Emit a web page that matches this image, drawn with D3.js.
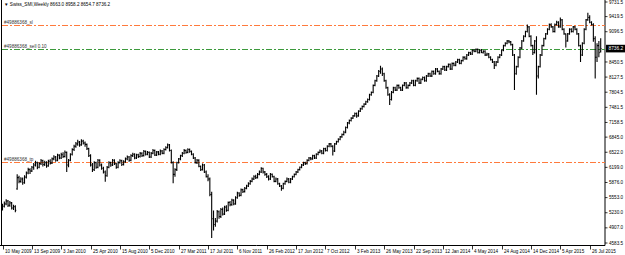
<!DOCTYPE html>
<html><head><meta charset="utf-8">
<script src="https://cdn.jsdelivr.net/npm/d3@7"></script>
<style>body{margin:0;background:#fff}svg{display:block}text{font-family:"Liberation Sans",Arial,sans-serif}</style>
</head><body><svg id="c" width="625" height="255"></svg>
<script>
const symbolTitle = "\u25BC Swiss_SMI,Weekly";
const lastOHLC = ["8663.0", "8958.2", "8654.7", "8736.2"];
const lastPrice = 8736.2;
const dateLabels = ["10 May 2009","13 Sep 2009","3 Jan 2010","25 Apr 2010","15 Aug 2010","5 Dec 2010","27 Mar 2011","17 Jul 2011","6 Nov 2011","26 Feb 2012","17 Jun 2012","7 Oct 2012","3 Feb 2013","26 May 2013","22 Sep 2013","12 Jan 2014","4 May 2014","24 Aug 2014","14 Dec 2014","5 Apr 2015","26 Jul 2015"];
const dateLabelStep = 16;
const priceTicks = [4583.5, 4907.0, 5230.0, 5553.0, 5876.0, 6199.0, 6522.0, 6845.0, 7158.5, 7481.5, 7804.5, 8127.5, 8450.5, 9096.5, 9419.5, 9731.5];
const levelNames = ["#49886368_sl", "#49886368_sell 0.10", "#49886368_tp"];
const levelValues = [9240, 8727, 6313];
// weekly bars: [open, high, low, close]
const bars = [
[5300,5420,5280,5370],[5370,5470,5340,5420],[5420,5520,5390,5480],[5480,5500,5350,5390],[5390,5480,5360,5440],[5440,5460,5300,5330],[5330,5400,5290,5360],[5360,5390,5240,5280],
[5740,6050,5720,5980],[5980,6020,5860,5900],[5900,5990,5870,5950],[5950,5980,5830,5870],[5870,6030,5850,5990],[5990,6110,5960,6080],[6080,6190,6050,6150],[6150,6180,6060,6120],
[6120,6230,6100,6200],[6200,6290,6150,6250],[6250,6340,6220,6300],[6300,6320,6160,6200],[6200,6310,6180,6280],[6280,6380,6250,6340],[6340,6360,6220,6260],[6260,6340,6230,6300],
[6300,6330,6190,6230],[6230,6360,6210,6330],[6330,6370,6260,6290],[6290,6410,6270,6380],[6380,6460,6350,6420],[6420,6440,6320,6350],[6350,6490,6330,6460],[6460,6480,6370,6400],
[6400,6510,6380,6470],[6470,6520,6400,6430],[6430,6560,6410,6520],[6520,6540,6100,6250],[6250,6380,6200,6350],[6350,6500,6330,6480],[6480,6610,6450,6580],[6580,6680,6550,6650],
[6650,6740,6620,6700],[6700,6790,6660,6740],[6740,6760,6640,6680],[6680,6800,6660,6760],[6760,6790,6690,6720],[6720,6750,6640,6690],[6690,6710,6570,6600],[6600,6620,6420,6450],
[6450,6480,6220,6250],[6250,6290,6100,6150],[6150,6330,6120,6300],[6300,6320,6170,6200],[6200,6380,6180,6350],[6350,6370,6220,6250],[6250,6280,6150,6180],[6180,6210,6070,6100],
[6100,6130,5890,6020],[6020,6230,6000,6200],[6200,6330,6180,6300],[6300,6320,6210,6250],[6250,6380,6230,6350],[6350,6370,6250,6280],[6280,6300,6170,6200],[6200,6330,6180,6300],
[6300,6370,6280,6340],[6340,6360,6230,6260],[6260,6350,6240,6320],[6320,6410,6300,6380],[6380,6450,6350,6420],[6420,6440,6320,6350],[6350,6480,6330,6450],[6450,6510,6420,6480],
[6480,6500,6370,6400],[6400,6490,6380,6470],[6470,6490,6400,6430],[6430,6530,6410,6500],[6500,6520,6420,6450],[6450,6570,6430,6540],[6540,6560,6450,6480],[6480,6550,6460,6520],
[6520,6540,6400,6420],[6420,6530,6400,6500],[6500,6590,6480,6560],[6560,6580,6440,6460],[6460,6550,6440,6530],[6530,6550,6460,6480],[6480,6580,6460,6550],[6550,6570,6480,6500],
[6500,6610,6480,6580],[6580,6650,6560,6620],[6620,6710,6600,6680],[6680,6700,6540,6560],[6560,6580,6280,6300],[6300,6330,5860,6050],[6050,6180,6000,6150],[6150,6320,6120,6300],
[6300,6400,6280,6380],[6380,6470,6350,6450],[6450,6530,6420,6500],[6500,6590,6480,6560],[6560,6580,6490,6520],[6520,6610,6500,6580],[6580,6600,6510,6540],[6540,6560,6460,6480],
[6480,6500,6380,6400],[6400,6420,6280,6300],[6300,6380,6270,6350],[6350,6370,6200,6220],[6220,6240,6120,6150],[6150,6280,6130,6250],[6250,6270,6080,6100],[6100,6130,5980,6000],
[6000,6050,5900,5950],[5950,5980,5580,5620],[5620,5680,4690,5100],[5100,5280,4850,4980],[4980,5120,4930,5050],[5050,5290,5020,5250],[5250,5280,5100,5150],[5150,5330,5120,5300],
[5300,5340,5170,5200],[5200,5380,5180,5350],[5350,5390,5250,5280],[5280,5470,5260,5450],[5450,5480,5370,5400],[5400,5530,5380,5500],[5500,5520,5390,5420],[5420,5580,5400,5550],
[5550,5680,5530,5650],[5650,5670,5570,5600],[5600,5750,5580,5720],[5720,5740,5650,5680],[5680,5780,5660,5750],[5750,5830,5730,5800],[5800,5880,5780,5850],[5850,5930,5830,5900],
[5900,5980,5880,5950],[5950,6030,5930,6000],[6000,6040,5950,5980],[5980,6080,5960,6050],[6050,6130,6030,6100],[6100,6200,6080,6180],[6180,6190,6070,6100],[6100,6120,6020,6050],
[6050,6080,5970,6000],[6000,6030,5920,5950],[5950,6080,5930,6050],[6050,6070,5980,6000],[6000,6020,5880,5900],[5900,5980,5880,5950],[5950,5970,5830,5850],[5850,5870,5780,5800],
[5800,5820,5700,5750],[5750,5870,5730,5850],[5850,5920,5830,5900],[5900,5980,5880,5950],[5950,5970,5860,5880],[5880,5970,5860,5950],[5950,6020,5930,6000],[6000,6070,5980,6050],
[6050,6120,6030,6100],[6100,6170,6080,6150],[6150,6220,6130,6200],[6200,6270,6180,6250],[6250,6320,6230,6300],[6300,6320,6250,6280],[6280,6370,6260,6350],[6350,6420,6330,6400],
[6400,6420,6350,6380],[6380,6470,6360,6450],[6450,6470,6380,6400],[6400,6500,6380,6480],[6480,6540,6460,6520],[6520,6580,6500,6550],[6550,6570,6480,6500],[6500,6620,6480,6600],
[6600,6620,6540,6560],[6560,6670,6540,6650],[6650,6720,6630,6700],[6700,6720,6630,6650],[6650,6670,6450,6550],[6550,6720,6530,6700],[6700,6770,6680,6750],[6750,6820,6730,6800],
[6800,6870,6780,6850],[6850,6920,6830,6900],[6900,6980,6880,6950],[6950,7070,6930,7050],[7050,7170,7030,7150],[7150,7220,7120,7200],[7200,7270,7180,7250],[7250,7320,7230,7300],
[7300,7370,7280,7350],[7350,7370,7260,7300],[7300,7420,7280,7400],[7400,7470,7380,7450],[7450,7520,7430,7500],[7500,7570,7480,7550],[7550,7620,7530,7600],[7600,7670,7580,7650],
[7650,7770,7630,7750],[7750,7820,7730,7800],[7800,7970,7780,7950],[7950,8070,7930,8050],[8050,8170,8030,8150],[8150,8280,8130,8250],[8250,8370,8200,8300],[8300,8330,8150,8200],
[8200,8220,8030,8050],[8050,8070,7880,7900],[7900,7920,7730,7750],[7750,7780,7530,7650],[7650,7830,7630,7800],[7800,7920,7780,7900],[7900,7920,7830,7850],[7850,7970,7830,7950],
[7950,7970,7880,7900],[7900,7920,7830,7850],[7850,7970,7830,7950],[7950,8020,7930,8000],[8000,8020,7880,7900],[7900,7970,7880,7950],[7950,8020,7930,8000],[8000,8070,7980,8050],
[8050,8070,7930,7950],[7950,8070,7930,8050],[8050,8120,8030,8100],[8100,8120,7980,8000],[8000,8100,7980,8080],[8080,8140,8060,8120],[8120,8140,8030,8050],[8050,8170,8030,8150],
[8150,8220,8130,8200],[8200,8220,8130,8150],[8150,8270,8130,8250],[8250,8270,8180,8200],[8200,8320,8180,8300],[8300,8320,8230,8250],[8250,8270,8180,8200],[8200,8320,8180,8300],
[8300,8370,8280,8350],[8350,8370,8260,8280],[8280,8370,8260,8350],[8350,8420,8330,8400],[8400,8420,8280,8300],[8300,8440,8280,8420],[8420,8440,8360,8380],[8380,8470,8360,8450],
[8450,8520,8430,8500],[8500,8520,8400,8420],[8420,8500,8400,8480],[8480,8570,8460,8550],[8550,8570,8500,8520],[8520,8620,8500,8600],[8600,8670,8580,8650],[8650,8670,8600,8620],
[8620,8720,8600,8700],[8700,8720,8660,8680],[8680,8740,8660,8720],[8720,8740,8630,8650],[8650,8720,8630,8700],[8700,8730,8640,8650],[8650,8700,8630,8680],[8680,8700,8580,8600],
[8600,8650,8580,8620],[8620,8640,8530,8550],[8550,8570,8480,8500],[8500,8520,8430,8450],[8450,8470,8300,8380],[8380,8470,8360,8450],[8450,8570,8430,8550],[8550,8620,8530,8600],
[8600,8720,8580,8700],[8700,8820,8680,8800],[8800,8870,8780,8850],[8850,8920,8830,8900],[8900,8920,8850,8880],[8880,8900,8800,8820],[8820,8840,8580,8600],[8600,8620,7850,8200],
[8200,8370,8180,8350],[8350,8570,8330,8550],[8550,8770,8530,8750],[8750,8920,8730,8900],[8900,9020,8880,9000],[9000,9120,8980,9100],[9100,9250,9080,9200],[9200,9220,8980,9000],
[9000,9020,8780,8800],[8800,8820,8600,8650],[8650,8920,8630,8900],[8900,9000,7750,8150],[8150,8370,8100,8350],[8350,8620,8330,8600],[8600,8820,8580,8800],[8800,8970,8780,8950],
[8950,9070,8930,9050],[9050,9170,9030,9150],[9150,9270,9130,9250],[9250,9280,9180,9200],[9200,9220,9080,9100],[9100,9270,9080,9250],[9250,9330,9230,9300],[9300,9320,9180,9200],
[9200,9400,9180,9350],[9350,9370,9130,9150],[9150,9170,9030,9050],[9050,9060,8760,8900],[8900,9070,8880,9050],[9050,9170,9030,9150],[9150,9170,9080,9100],[9100,9220,9080,9200],
[9200,9220,9130,9150],[9150,9170,9030,9050],[9050,9070,8780,8800],[8800,8820,8450,8600],[8600,8870,8580,8850],[8850,9170,8830,9150],[9150,9370,9130,9350],[9350,9500,9330,9400],
[9400,9450,9280,9300],[9300,9320,9230,9250],[9250,9280,8880,8950],[8950,9000,8100,8550],[8550,8850,8450,8800],[8800,8900,8550,8650],[8663.0,8958.2,8654.7,8736.2]
];

const W = 625, H = 255;
const plotRight = 605, plotBottom = 245.5;
const svg = d3.select("#c");
const x = d3.scaleLinear().domain([0, 326]).range([2.5, 600.7]);
const y = d3.scaleLinear().domain([4583.5, 9731.5]).range([243, 2]);

svg.append("rect").attr("width", W).attr("height", H).attr("fill", "#fff");

// frame
svg.append("path").attr("d", `M1.5,0V${plotBottom}M0,${plotBottom}H${plotRight}M${plotRight},0V${plotBottom}`)
  .attr("stroke", "#000").attr("stroke-width", 1).attr("fill", "none");

// levels
const levelColors = ["#ff7a3c", "#3c9a3c", "#ff7a3c"];
const lv = svg.append("g");
levelValues.forEach((v, k) => {
  const yy = Math.round(y(v)) + 0.5;
  lv.append("line").attr("x1", 2).attr("x2", plotRight).attr("y1", yy).attr("y2", yy)
    .style("stroke", levelColors[k]).attr("stroke-width", 1.2).attr("stroke-dasharray", "6,2,2,2");
  lv.append("text").attr("x", 4).attr("y", yy - 1.5).attr("font-size", 4.6).attr("fill", "#333").text(levelNames[k]);
});

// bars
svg.append("g").selectAll("path").data(bars).join("path")
  .attr("d", (d, i) => {
    const xi = x(i);
    return `M${xi},${y(d[1])}V${y(d[2])}M${xi - 0.9},${y(d[0])}H${xi}M${xi},${y(d[3])}H${xi + 0.9}`;
  })
  .attr("stroke", "#000").attr("stroke-width", 1.1).attr("fill", "none");

// right axis
const ra = svg.append("g");
priceTicks.forEach(v => {
  const yy = y(v);
  ra.append("line").attr("x1", plotRight).attr("x2", plotRight + 2.5).attr("y1", yy).attr("y2", yy).attr("stroke", "#000").attr("stroke-width", 0.8);
  ra.append("text").attr("x", plotRight + 4).attr("y", yy + 1.6).attr("font-size", 4.6).attr("fill", "#000").text(v.toFixed(1));
});
// price box
const py = y(lastPrice);
ra.append("rect").attr("x", plotRight + 1).attr("y", py - 3.8).attr("width", 19).attr("height", 7.6).attr("fill", "#000");
ra.append("text").attr("x", plotRight + 3.5).attr("y", py + 1.7).attr("font-size", 4.8).attr("fill", "#fff").text(lastPrice.toFixed(1));

// bottom axis
const ba = svg.append("g");
dateLabels.forEach((lab, k) => {
  const xx = Math.round(x(k * dateLabelStep)) + 0.5;
  ba.append("line").attr("x1", xx).attr("x2", xx).attr("y1", plotBottom).attr("y2", plotBottom + 4).attr("stroke", "#000").attr("stroke-width", 0.8);
  ba.append("text").attr("x", xx + 1.5).attr("y", 252.5).attr("font-size", 4.6).attr("fill", "#000").text(lab);
});

// header
svg.append("text").attr("x", 4).attr("y", 6).attr("font-size", 4.6).attr("fill", "#000")
  .text(symbolTitle + "  " + lastOHLC.join(" "));
</script></body></html>
